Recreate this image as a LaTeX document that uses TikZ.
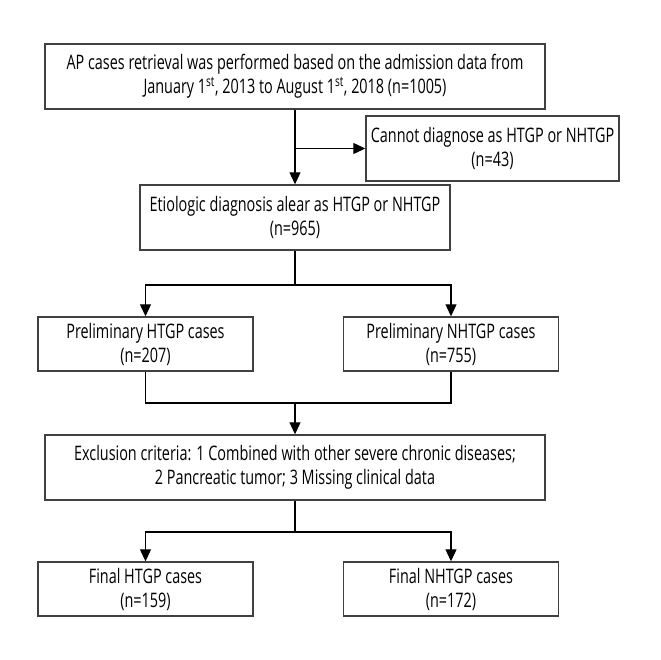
\documentclass[tikz,border=0pt]{standalone}
\usepackage{fontspec}
\setmainfont[FakeStretch=0.72]{Open Sans}
\usetikzlibrary{arrows.meta}
\begin{document}
\begin{tikzpicture}[x=1pt,y=-1pt,
  box/.style={draw=black!75,line width=1.4pt,align=center,inner sep=0pt,
    font=\fontsize{20}{24}\selectfont},
  wide/.style={box,minimum width=500pt,minimum height=65pt},
  small/.style={box,minimum width=215pt,minimum height=54pt},
  link/.style={line width=1.1pt},
  arr/.style={link,-{Triangle[length=12pt,width=11pt]}}]
  \useasboundingbox (0,0) rectangle (660,660);
  \node[wide] (ap) at (295,76.5) {AP cases retrieval was performed based on the admission data from\\
    January 1\textsuperscript{st}, 2013 to August 1\textsuperscript{st}, 2018 (n=1005)};
  \node[box,minimum width=253pt,minimum height=65pt] (cant) at (492.5,148.5) {Cannot diagnose as HTGP or NHTGP\\(n=43)};
  \node[box,minimum width=310pt,minimum height=65pt] (etio) at (295,217.5) {Etiologic diagnosis alear as HTGP or NHTGP\\(n=965)};
  \node[small] (ph) at (145.5,344) {Preliminary HTGP cases\\(n=207)};
  \node[small] (pn) at (451,344) {Preliminary NHTGP cases\\(n=755)};
  \node[wide] (ex) at (295,467.5) {Exclusion criteria: 1 Combined with other severe chronic diseases;\\
    2 Pancreatic tumor; 3 Missing clinical data};
  \node[small] (fh) at (145.5,589) {Final HTGP cases\\(n=159)};
  \node[small] (fn) at (451,589) {Final NHTGP cases\\(n=172)};
  \coordinate (m1) at (295,285);
  \coordinate (m2) at (295,403);
  \coordinate (m3) at (295,532);
  \draw[arr] (ap.south) -- (etio.north);
  \draw[arr] (ap.south |- cant.west) -- (cant.west);
  \draw[link] (etio.south) -- (m1);
  \draw[arr] (m1) -| (ph.north);
  \draw[arr] (m1) -| (pn.north);
  \draw[link] (ph.south) |- (m2) -| (pn.south);
  \draw[arr] (m2) -- (ex.north);
  \draw[link] (ex.south) -- (m3);
  \draw[arr] (m3) -| (fh.north);
  \draw[arr] (m3) -| (fn.north);
\end{tikzpicture}
\end{document}
